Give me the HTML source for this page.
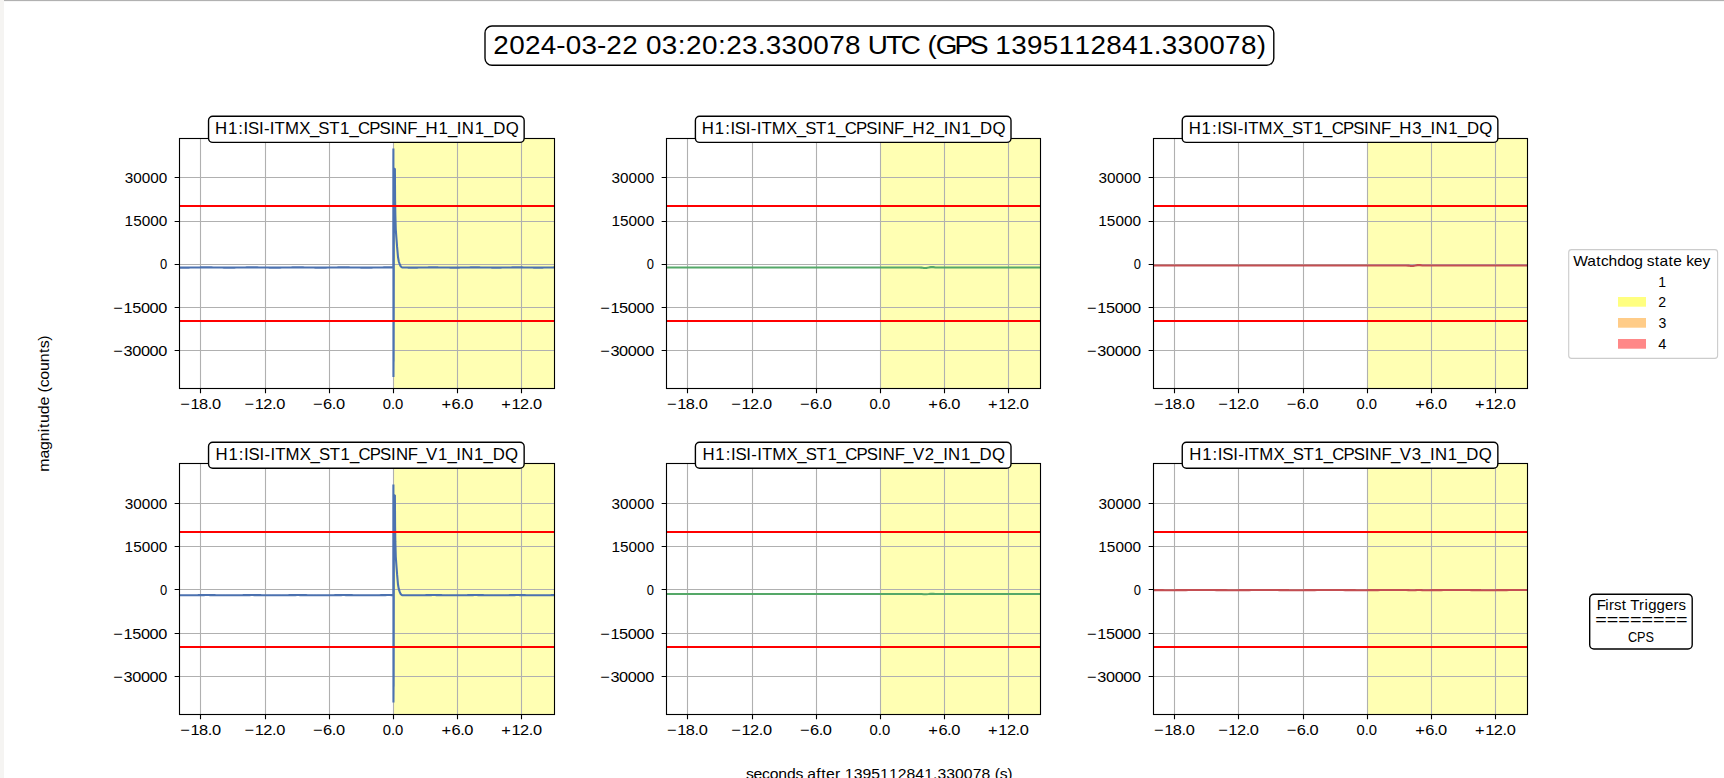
<!DOCTYPE html>
<html><head><meta charset="utf-8"><style>html,body{margin:0;padding:0;background:#fff;width:1724px;height:778px;overflow:hidden;position:relative}</style></head><body>
<svg width="1724" height="778" viewBox="0 0 1724 778" style="position:absolute;left:0;top:0;font-family:'Liberation Sans', sans-serif">
<rect x="0" y="0" width="1724" height="778" fill="#ffffff"/>
<rect x="0" y="0" width="4" height="778" fill="#f5f4f2"/>
<rect x="4" y="0" width="1720" height="1" fill="#b1b1b1"/>
<rect x="4" y="1" width="1720" height="1" fill="#f6f6f6"/>
<clipPath id="c00"><rect x="179.55" y="138.30" width="374.50" height="250.40"/></clipPath>
<rect x="393.55" y="138.30" width="160.50" height="250.40" fill="#ffffb3"/>
<path d="M200.5 138.5V388.5 M265.5 138.5V388.5 M329.5 138.5V388.5 M393.5 138.5V388.5 M457.5 138.5V388.5 M521.5 138.5V388.5 M179.5 177.5H554.5 M179.5 221.5H554.5 M179.5 264.5H554.5 M179.5 307.5H554.5 M179.5 350.5H554.5" stroke="#b0b0b0" stroke-width="1.111" fill="none"/>
<path d="M179.55 267.60 L181.08 267.61 L182.60 267.62 L184.13 267.62 L185.65 267.62 L187.18 267.61 L188.70 267.59 L190.23 267.57 L191.75 267.55 L193.28 267.53 L194.80 267.50 L196.33 267.48 L197.85 267.46 L199.38 267.43 L200.91 267.41 L202.43 267.40 L203.96 267.39 L205.48 267.38 L207.01 267.38 L208.53 267.38 L210.06 267.39 L211.58 267.41 L213.11 267.43 L214.63 267.45 L216.16 267.47 L217.68 267.50 L219.21 267.52 L220.73 267.55 L222.26 267.57 L223.79 267.59 L225.31 267.60 L226.84 267.61 L228.36 267.62 L229.89 267.62 L231.41 267.62 L232.94 267.61 L234.46 267.59 L235.99 267.57 L237.51 267.55 L239.04 267.53 L240.56 267.50 L242.09 267.48 L243.62 267.45 L245.14 267.43 L246.67 267.41 L248.19 267.40 L249.72 267.39 L251.24 267.38 L252.77 267.38 L254.29 267.39 L255.82 267.39 L257.34 267.41 L258.87 267.43 L260.39 267.45 L261.92 267.47 L263.44 267.50 L264.97 267.52 L266.50 267.55 L268.02 267.57 L269.55 267.59 L271.07 267.60 L272.60 267.61 L274.12 267.62 L275.65 267.62 L277.17 267.61 L278.70 267.60 L280.22 267.59 L281.75 267.57 L283.27 267.55 L284.80 267.53 L286.33 267.50 L287.85 267.48 L289.38 267.45 L290.90 267.43 L292.43 267.41 L293.95 267.40 L295.48 267.39 L297.00 267.38 L298.53 267.38 L300.05 267.39 L301.58 267.40 L303.10 267.41 L304.63 267.43 L306.15 267.45 L307.68 267.48 L309.21 267.50 L310.73 267.53 L312.26 267.55 L313.78 267.57 L315.31 267.59 L316.83 267.60 L318.36 267.61 L319.88 267.62 L321.41 267.62 L322.93 267.61 L324.46 267.60 L325.98 267.59 L327.51 267.57 L329.04 267.55 L330.56 267.52 L332.09 267.50 L333.61 267.47 L335.14 267.45 L336.66 267.43 L338.19 267.41 L339.71 267.40 L341.24 267.39 L342.76 267.38 L344.29 267.38 L345.81 267.39 L347.34 267.40 L348.86 267.41 L350.39 267.43 L351.92 267.45 L353.44 267.48 L354.97 267.50 L356.49 267.53 L358.02 267.55 L359.54 267.57 L361.07 267.59 L362.59 267.61 L364.12 267.61 L365.64 267.62 L367.17 267.62 L368.69 267.61 L370.22 267.60 L371.75 267.59 L373.27 267.57 L374.80 267.55 L376.32 267.52 L377.85 267.50 L379.37 267.47 L380.90 267.45 L382.42 267.43 L383.95 267.41 L385.47 267.39 L387.00 267.38 L388.52 267.38 L390.05 267.38 L391.57 267.39 L393.10 267.40 L393.30 267.50 L393.35 163.40 L393.40 148.40 L393.45 376.90 L393.65 343.00 L393.65 361.50 L394.00 168.70 L394.90 168.70 L395.10 199.79 L395.35 214.84 L395.80 229.89 L396.40 237.91 L397.10 246.94 L398.00 256.97 L398.80 261.48 L399.80 264.49 L400.80 266.50 L402.10 267.50 L403.37 267.52 L404.63 267.54 L405.90 267.56 L407.17 267.58 L408.43 267.60 L409.70 267.61 L410.96 267.62 L412.23 267.62 L413.50 267.62 L414.76 267.61 L416.03 267.60 L417.30 267.59 L418.56 267.57 L419.83 267.56 L421.09 267.53 L422.36 267.51 L423.63 267.49 L424.89 267.47 L426.16 267.45 L427.43 267.43 L428.69 267.41 L429.96 267.40 L431.22 267.39 L432.49 267.38 L433.76 267.38 L435.02 267.38 L436.29 267.39 L437.56 267.40 L438.82 267.42 L440.09 267.43 L441.35 267.45 L442.62 267.48 L443.89 267.50 L445.15 267.52 L446.42 267.54 L447.69 267.56 L448.95 267.58 L450.22 267.60 L451.48 267.61 L452.75 267.62 L454.02 267.62 L455.28 267.62 L456.55 267.61 L457.81 267.60 L459.08 267.59 L460.35 267.58 L461.61 267.56 L462.88 267.54 L464.15 267.51 L465.41 267.49 L466.68 267.47 L467.94 267.45 L469.21 267.43 L470.48 267.41 L471.74 267.40 L473.01 267.39 L474.28 267.38 L475.54 267.38 L476.81 267.38 L478.07 267.39 L479.34 267.40 L480.61 267.42 L481.87 267.43 L483.14 267.45 L484.41 267.47 L485.67 267.50 L486.94 267.52 L488.20 267.54 L489.47 267.56 L490.74 267.58 L492.00 267.60 L493.27 267.61 L494.54 267.62 L495.80 267.62 L497.07 267.62 L498.33 267.61 L499.60 267.61 L500.87 267.59 L502.13 267.58 L503.40 267.56 L504.67 267.54 L505.93 267.52 L507.20 267.49 L508.46 267.47 L509.73 267.45 L511.00 267.43 L512.26 267.41 L513.53 267.40 L514.80 267.39 L516.06 267.38 L517.33 267.38 L518.60 267.38 L519.86 267.39 L521.13 267.40 L522.39 267.41 L523.66 267.43 L524.93 267.45 L526.19 267.47 L527.46 267.50 L528.72 267.52 L529.99 267.54 L531.26 267.56 L532.52 267.58 L533.79 267.59 L535.06 267.61 L536.32 267.62 L537.59 267.62 L538.86 267.62 L540.12 267.62 L541.39 267.61 L542.65 267.59 L543.92 267.58 L545.19 267.56 L546.45 267.54 L547.72 267.52 L548.98 267.49 L550.25 267.47 L551.52 267.45 L552.78 267.43 L554.05 267.41" stroke="#4c72b0" stroke-width="2.08" fill="none" stroke-linejoin="bevel" stroke-linecap="butt" clip-path="url(#c00)"/>
<path d="M179.55 206H554.05" stroke="#ff0000" stroke-width="2.08" fill="none"/>
<path d="M179.55 321H554.05" stroke="#ff0000" stroke-width="2.08" fill="none"/>
<rect x="179.5" y="138.5" width="375.0" height="250.0" fill="none" stroke="#000" stroke-width="1.111" stroke-linejoin="miter"/>
<path d="M200.5 388.5V393.36 M265.5 388.5V393.36 M329.5 388.5V393.36 M393.5 388.5V393.36 M457.5 388.5V393.36 M521.5 388.5V393.36 M179.5 177.5H174.64 M179.5 221.5H174.64 M179.5 264.5H174.64 M179.5 307.5H174.64 M179.5 350.5H174.64" stroke="#000" stroke-width="1.111" fill="none"/>
<text transform="scale(1.11305,1)" x="161.93 171.09 178.82 186.66 190.41" y="408.800" font-size="14.717" fill="#000">−18.0</text>
<text transform="scale(1.11305,1)" x="219.61 228.77 236.50 244.34 248.09" y="408.800" font-size="14.717" fill="#000">−12.0</text>
<text transform="scale(1.11744,1)" x="280.15 289.17 296.93 300.59" y="408.800" font-size="14.717" fill="#000">−6.0</text>
<text transform="scale(1.00733,1)" x="379.96 388.14 392.23" y="408.800" font-size="14.717" fill="#000">0.0</text>
<text transform="scale(1.11715,1)" x="395.16 404.19 411.94 415.60" y="408.800" font-size="14.717" fill="#000">+6.0</text>
<text transform="scale(1.11282,1)" x="450.42 459.59 467.32 475.16 478.91" y="408.800" font-size="14.717" fill="#000">+12.0</text>
<text transform="scale(1.04058,1)" x="119.88 128.06 136.25 144.43 152.62" y="182.780" font-size="14.717" fill="#000">30000</text>
<text transform="scale(1.04352,1)" x="119.43 127.61 135.80 143.98 152.16" y="226.030" font-size="14.717" fill="#000">15000</text>
<text transform="scale(0.88113,1)" x="181.61" y="269.280" font-size="14.717" fill="#000">0</text>
<text transform="scale(1.10733,1)" x="102.32 111.60 119.44 127.28 135.12 142.96" y="312.530" font-size="14.717" fill="#000">−15000</text>
<text transform="scale(1.10733,1)" x="102.32 111.60 119.44 127.28 135.12 142.96" y="355.780" font-size="14.717" fill="#000">−30000</text>
<rect x="208.55" y="116.3" width="315.6" height="26.10" rx="4.2" ry="4.2" fill="#fff" stroke="#000" stroke-width="1.39"/>
<text transform="scale(0.97810,1)" x="219.82 233.01 243.65 249.00 253.55 264.77 269.85 275.89 280.71 291.30 305.84 316.84 325.51 336.55 347.59 357.22 365.96 377.46 387.96 399.18 404.21 416.38 425.96 435.15 448.35 457.98 467.10 472.14 485.30 494.93 504.27 516.99" y="133.900" font-size="17.150" fill="#000">H1:ISI-ITMX_ST1_CPSINF_H1_IN1_DQ</text>
<clipPath id="c01"><rect x="666.40" y="138.30" width="374.50" height="250.40"/></clipPath>
<rect x="880.40" y="138.30" width="160.50" height="250.40" fill="#ffffb3"/>
<path d="M687.5 138.5V388.5 M752.5 138.5V388.5 M816.5 138.5V388.5 M880.5 138.5V388.5 M944.5 138.5V388.5 M1008.5 138.5V388.5 M666.5 177.5H1040.5 M666.5 221.5H1040.5 M666.5 264.5H1040.5 M666.5 307.5H1040.5 M666.5 350.5H1040.5" stroke="#b0b0b0" stroke-width="1.111" fill="none"/>
<path d="M666.40 267.50 L668.74 267.52 L671.08 267.54 L673.42 267.55 L675.76 267.56 L678.10 267.57 L680.44 267.58 L682.78 267.58 L685.12 267.58 L687.47 267.57 L689.81 267.56 L692.15 267.55 L694.49 267.53 L696.83 267.51 L699.17 267.49 L701.51 267.48 L703.85 267.46 L706.19 267.44 L708.53 267.43 L710.87 267.42 L713.21 267.42 L715.55 267.42 L717.89 267.42 L720.23 267.43 L722.57 267.44 L724.92 267.46 L727.26 267.48 L729.60 267.49 L731.94 267.51 L734.28 267.53 L736.62 267.55 L738.96 267.56 L741.30 267.57 L743.64 267.58 L745.98 267.58 L748.32 267.58 L750.66 267.57 L753.00 267.56 L755.34 267.55 L757.68 267.54 L760.02 267.52 L762.37 267.50 L764.71 267.48 L767.05 267.46 L769.39 267.45 L771.73 267.44 L774.07 267.43 L776.41 267.42 L778.75 267.42 L781.09 267.42 L783.43 267.43 L785.77 267.44 L788.11 267.45 L790.45 267.47 L792.79 267.49 L795.13 267.51 L797.47 267.52 L799.82 267.54 L802.16 267.56 L804.50 267.57 L806.84 267.58 L809.18 267.58 L811.52 267.58 L813.86 267.58 L816.20 267.57 L818.54 267.55 L820.88 267.54 L823.22 267.52 L825.56 267.51 L827.90 267.49 L830.24 267.47 L832.58 267.45 L834.92 267.44 L837.27 267.43 L839.61 267.42 L841.95 267.42 L844.29 267.42 L846.63 267.43 L848.97 267.44 L851.31 267.45 L853.65 267.47 L855.99 267.48 L858.33 267.50 L860.67 267.52 L863.01 267.54 L865.35 267.55 L867.69 267.56 L870.03 267.57 L872.38 267.58 L874.72 267.58 L877.06 267.58 L879.40 267.57 L881.74 267.56 L884.08 267.55 L886.42 267.53 L888.76 267.51 L891.10 267.49 L893.44 267.47 L895.78 267.46 L898.12 267.44 L900.46 267.43 L902.80 267.42 L905.14 267.42 L907.48 267.42 L909.83 267.43 L912.17 267.43 L914.51 267.45 L916.85 267.46 L919.19 267.48 L921.53 267.59 L923.87 267.98 L926.21 267.95 L928.55 267.55 L930.89 267.14 L933.23 267.11 L935.57 267.48 L937.91 267.58 L940.25 267.58 L942.59 267.57 L944.93 267.56 L947.27 267.55 L949.62 267.53 L951.96 267.52 L954.30 267.50 L956.64 267.48 L958.98 267.46 L961.32 267.45 L963.66 267.44 L966.00 267.43 L968.34 267.42 L970.68 267.42 L973.02 267.42 L975.36 267.43 L977.70 267.44 L980.04 267.46 L982.38 267.47 L984.72 267.49 L987.07 267.51 L989.41 267.53 L991.75 267.54 L994.09 267.56 L996.43 267.57 L998.77 267.58 L1001.11 267.58 L1003.45 267.58 L1005.79 267.57 L1008.13 267.57 L1010.47 267.55 L1012.81 267.54 L1015.15 267.52 L1017.49 267.50 L1019.83 267.49 L1022.17 267.47 L1024.52 267.45 L1026.86 267.44 L1029.20 267.43 L1031.54 267.42 L1033.88 267.42 L1036.22 267.42 L1038.56 267.43 L1040.90 267.44" stroke="#55a868" stroke-width="2.08" fill="none" stroke-linejoin="bevel" stroke-linecap="butt" clip-path="url(#c01)"/>
<path d="M666.40 206H1040.90" stroke="#ff0000" stroke-width="2.08" fill="none"/>
<path d="M666.40 321H1040.90" stroke="#ff0000" stroke-width="2.08" fill="none"/>
<rect x="666.5" y="138.5" width="374.0" height="250.0" fill="none" stroke="#000" stroke-width="1.111" stroke-linejoin="miter"/>
<path d="M687.5 388.5V393.36 M752.5 388.5V393.36 M816.5 388.5V393.36 M880.5 388.5V393.36 M944.5 388.5V393.36 M1008.5 388.5V393.36 M666.5 177.5H661.64 M666.5 221.5H661.64 M666.5 264.5H661.64 M666.5 307.5H661.64 M666.5 350.5H661.64" stroke="#000" stroke-width="1.111" fill="none"/>
<text transform="scale(1.11305,1)" x="599.33 608.49 616.22 624.07 627.82" y="408.800" font-size="14.717" fill="#000">−18.0</text>
<text transform="scale(1.11305,1)" x="657.01 666.17 673.90 681.75 685.50" y="408.800" font-size="14.717" fill="#000">−12.0</text>
<text transform="scale(1.11744,1)" x="715.83 724.85 732.61 736.27" y="408.800" font-size="14.717" fill="#000">−6.0</text>
<text transform="scale(1.00733,1)" x="863.26 871.45 875.53" y="408.800" font-size="14.717" fill="#000">0.0</text>
<text transform="scale(1.11715,1)" x="830.96 839.99 847.74 851.40" y="408.800" font-size="14.717" fill="#000">+6.0</text>
<text transform="scale(1.11282,1)" x="887.92 897.08 904.81 912.65 916.40" y="408.800" font-size="14.717" fill="#000">+12.0</text>
<text transform="scale(1.04058,1)" x="587.74 595.93 604.11 612.30 620.48" y="182.780" font-size="14.717" fill="#000">30000</text>
<text transform="scale(1.04352,1)" x="585.97 594.16 602.34 610.53 618.71" y="226.030" font-size="14.717" fill="#000">15000</text>
<text transform="scale(0.88113,1)" x="734.14" y="269.280" font-size="14.717" fill="#000">0</text>
<text transform="scale(1.10733,1)" x="541.98 551.26 559.10 566.94 574.78 582.62" y="312.530" font-size="14.717" fill="#000">−15000</text>
<text transform="scale(1.10733,1)" x="541.98 551.26 559.10 566.94 574.78 582.62" y="355.780" font-size="14.717" fill="#000">−30000</text>
<rect x="695.40" y="116.3" width="315.6" height="26.10" rx="4.2" ry="4.2" fill="#fff" stroke="#000" stroke-width="1.39"/>
<text transform="scale(0.97810,1)" x="717.57 730.76 741.40 746.75 751.30 762.52 767.60 773.63 778.46 789.05 803.59 814.59 823.26 834.30 845.34 854.97 863.71 875.21 885.71 896.93 901.96 914.13 923.71 932.90 946.10 955.73 964.85 969.89 983.05 992.68 1002.02 1014.74" y="133.900" font-size="17.150" fill="#000">H1:ISI-ITMX_ST1_CPSINF_H2_IN1_DQ</text>
<clipPath id="c02"><rect x="1153.25" y="138.30" width="374.50" height="250.40"/></clipPath>
<rect x="1367.25" y="138.30" width="160.50" height="250.40" fill="#ffffb3"/>
<path d="M1174.5 138.5V388.5 M1238.5 138.5V388.5 M1303.5 138.5V388.5 M1367.5 138.5V388.5 M1431.5 138.5V388.5 M1495.5 138.5V388.5 M1153.5 177.5H1527.5 M1153.5 221.5H1527.5 M1153.5 264.5H1527.5 M1153.5 307.5H1527.5 M1153.5 350.5H1527.5" stroke="#b0b0b0" stroke-width="1.111" fill="none"/>
<path d="M1153.25 265.50 L1155.59 265.52 L1157.93 265.54 L1160.27 265.55 L1162.61 265.56 L1164.95 265.57 L1167.29 265.58 L1169.63 265.58 L1171.97 265.58 L1174.32 265.57 L1176.66 265.56 L1179.00 265.55 L1181.34 265.53 L1183.68 265.51 L1186.02 265.49 L1188.36 265.48 L1190.70 265.46 L1193.04 265.44 L1195.38 265.43 L1197.72 265.42 L1200.06 265.42 L1202.40 265.42 L1204.74 265.42 L1207.08 265.43 L1209.42 265.44 L1211.77 265.46 L1214.11 265.48 L1216.45 265.49 L1218.79 265.51 L1221.13 265.53 L1223.47 265.55 L1225.81 265.56 L1228.15 265.57 L1230.49 265.58 L1232.83 265.58 L1235.17 265.58 L1237.51 265.57 L1239.85 265.56 L1242.19 265.55 L1244.53 265.54 L1246.88 265.52 L1249.22 265.50 L1251.56 265.48 L1253.90 265.46 L1256.24 265.45 L1258.58 265.44 L1260.92 265.43 L1263.26 265.42 L1265.60 265.42 L1267.94 265.42 L1270.28 265.43 L1272.62 265.44 L1274.96 265.45 L1277.30 265.47 L1279.64 265.49 L1281.98 265.51 L1284.33 265.52 L1286.67 265.54 L1289.01 265.56 L1291.35 265.57 L1293.69 265.58 L1296.03 265.58 L1298.37 265.58 L1300.71 265.58 L1303.05 265.57 L1305.39 265.55 L1307.73 265.54 L1310.07 265.52 L1312.41 265.51 L1314.75 265.49 L1317.09 265.47 L1319.43 265.45 L1321.78 265.44 L1324.12 265.43 L1326.46 265.42 L1328.80 265.42 L1331.14 265.42 L1333.48 265.43 L1335.82 265.44 L1338.16 265.45 L1340.50 265.47 L1342.84 265.48 L1345.18 265.50 L1347.52 265.52 L1349.86 265.54 L1352.20 265.55 L1354.54 265.56 L1356.88 265.57 L1359.22 265.58 L1361.57 265.58 L1363.91 265.58 L1366.25 265.57 L1368.59 265.56 L1370.93 265.55 L1373.27 265.53 L1375.61 265.51 L1377.95 265.49 L1380.29 265.47 L1382.63 265.46 L1384.97 265.44 L1387.31 265.43 L1389.65 265.42 L1391.99 265.42 L1394.33 265.42 L1396.67 265.43 L1399.02 265.43 L1401.36 265.45 L1403.70 265.46 L1406.04 265.48 L1408.38 265.59 L1410.72 265.98 L1413.06 265.95 L1415.40 265.55 L1417.74 265.14 L1420.08 265.11 L1422.42 265.48 L1424.76 265.58 L1427.10 265.58 L1429.44 265.57 L1431.78 265.56 L1434.12 265.55 L1436.47 265.53 L1438.81 265.52 L1441.15 265.50 L1443.49 265.48 L1445.83 265.46 L1448.17 265.45 L1450.51 265.44 L1452.85 265.43 L1455.19 265.42 L1457.53 265.42 L1459.87 265.42 L1462.21 265.43 L1464.55 265.44 L1466.89 265.46 L1469.23 265.47 L1471.58 265.49 L1473.92 265.51 L1476.26 265.53 L1478.60 265.54 L1480.94 265.56 L1483.28 265.57 L1485.62 265.58 L1487.96 265.58 L1490.30 265.58 L1492.64 265.57 L1494.98 265.57 L1497.32 265.55 L1499.66 265.54 L1502.00 265.52 L1504.34 265.50 L1506.68 265.49 L1509.03 265.47 L1511.37 265.45 L1513.71 265.44 L1516.05 265.43 L1518.39 265.42 L1520.73 265.42 L1523.07 265.42 L1525.41 265.43 L1527.75 265.44" stroke="#c44e52" stroke-width="2.08" fill="none" stroke-linejoin="bevel" stroke-linecap="butt" clip-path="url(#c02)"/>
<path d="M1153.25 206H1527.75" stroke="#ff0000" stroke-width="2.08" fill="none"/>
<path d="M1153.25 321H1527.75" stroke="#ff0000" stroke-width="2.08" fill="none"/>
<rect x="1153.5" y="138.5" width="374.0" height="250.0" fill="none" stroke="#000" stroke-width="1.111" stroke-linejoin="miter"/>
<path d="M1174.5 388.5V393.36 M1238.5 388.5V393.36 M1303.5 388.5V393.36 M1367.5 388.5V393.36 M1431.5 388.5V393.36 M1495.5 388.5V393.36 M1153.5 177.5H1148.64 M1153.5 221.5H1148.64 M1153.5 264.5H1148.64 M1153.5 307.5H1148.64 M1153.5 350.5H1148.64" stroke="#000" stroke-width="1.111" fill="none"/>
<text transform="scale(1.11305,1)" x="1036.73 1045.90 1053.63 1061.47 1065.22" y="408.800" font-size="14.717" fill="#000">−18.0</text>
<text transform="scale(1.11305,1)" x="1094.41 1103.58 1111.31 1119.15 1122.90" y="408.800" font-size="14.717" fill="#000">−12.0</text>
<text transform="scale(1.11744,1)" x="1151.51 1160.54 1168.29 1171.95" y="408.800" font-size="14.717" fill="#000">−6.0</text>
<text transform="scale(1.00733,1)" x="1346.57 1354.75 1358.84" y="408.800" font-size="14.717" fill="#000">0.0</text>
<text transform="scale(1.11715,1)" x="1266.76 1275.78 1283.54 1287.20" y="408.800" font-size="14.717" fill="#000">+6.0</text>
<text transform="scale(1.11282,1)" x="1325.41 1334.57 1342.30 1350.15 1353.89" y="408.800" font-size="14.717" fill="#000">+12.0</text>
<text transform="scale(1.04058,1)" x="1055.61 1063.79 1071.98 1080.16 1088.35" y="182.780" font-size="14.717" fill="#000">30000</text>
<text transform="scale(1.04352,1)" x="1052.52 1060.71 1068.89 1077.07 1085.26" y="226.030" font-size="14.717" fill="#000">15000</text>
<text transform="scale(0.88113,1)" x="1286.67" y="269.280" font-size="14.717" fill="#000">0</text>
<text transform="scale(1.10733,1)" x="981.64 990.92 998.76 1006.60 1014.44 1022.28" y="312.530" font-size="14.717" fill="#000">−15000</text>
<text transform="scale(1.10733,1)" x="981.64 990.92 998.76 1006.60 1014.44 1022.28" y="355.780" font-size="14.717" fill="#000">−30000</text>
<rect x="1182.25" y="116.3" width="315.6" height="26.10" rx="4.2" ry="4.2" fill="#fff" stroke="#000" stroke-width="1.39"/>
<text transform="scale(0.97810,1)" x="1215.32 1228.51 1239.15 1244.50 1249.05 1260.27 1265.35 1271.38 1276.21 1286.80 1301.34 1312.34 1321.01 1332.05 1343.09 1352.72 1361.46 1372.96 1383.46 1394.67 1399.71 1411.88 1421.46 1430.65 1443.85 1453.48 1462.60 1467.64 1480.79 1490.43 1499.77 1512.49" y="133.900" font-size="17.150" fill="#000">H1:ISI-ITMX_ST1_CPSINF_H3_IN1_DQ</text>
<clipPath id="c10"><rect x="179.55" y="463.80" width="374.50" height="250.40"/></clipPath>
<rect x="393.55" y="463.80" width="160.50" height="250.40" fill="#ffffb3"/>
<path d="M200.5 463.5V714.5 M265.5 463.5V714.5 M329.5 463.5V714.5 M393.5 463.5V714.5 M457.5 463.5V714.5 M521.5 463.5V714.5 M179.5 503.5H554.5 M179.5 546.5H554.5 M179.5 589.5H554.5 M179.5 633.5H554.5 M179.5 676.5H554.5" stroke="#b0b0b0" stroke-width="1.111" fill="none"/>
<path d="M179.55 595.30 L181.08 595.31 L182.60 595.32 L184.13 595.32 L185.65 595.32 L187.18 595.31 L188.70 595.29 L190.23 595.27 L191.75 595.25 L193.28 595.23 L194.80 595.20 L196.33 595.18 L197.85 595.16 L199.38 595.13 L200.91 595.11 L202.43 595.10 L203.96 595.09 L205.48 595.08 L207.01 595.08 L208.53 595.08 L210.06 595.09 L211.58 595.11 L213.11 595.13 L214.63 595.15 L216.16 595.17 L217.68 595.20 L219.21 595.22 L220.73 595.25 L222.26 595.27 L223.79 595.29 L225.31 595.30 L226.84 595.31 L228.36 595.32 L229.89 595.32 L231.41 595.32 L232.94 595.31 L234.46 595.29 L235.99 595.27 L237.51 595.25 L239.04 595.23 L240.56 595.20 L242.09 595.18 L243.62 595.15 L245.14 595.13 L246.67 595.11 L248.19 595.10 L249.72 595.09 L251.24 595.08 L252.77 595.08 L254.29 595.09 L255.82 595.09 L257.34 595.11 L258.87 595.13 L260.39 595.15 L261.92 595.17 L263.44 595.20 L264.97 595.22 L266.50 595.25 L268.02 595.27 L269.55 595.29 L271.07 595.30 L272.60 595.31 L274.12 595.32 L275.65 595.32 L277.17 595.31 L278.70 595.30 L280.22 595.29 L281.75 595.27 L283.27 595.25 L284.80 595.23 L286.33 595.20 L287.85 595.18 L289.38 595.15 L290.90 595.13 L292.43 595.11 L293.95 595.10 L295.48 595.09 L297.00 595.08 L298.53 595.08 L300.05 595.09 L301.58 595.10 L303.10 595.11 L304.63 595.13 L306.15 595.15 L307.68 595.18 L309.21 595.20 L310.73 595.23 L312.26 595.25 L313.78 595.27 L315.31 595.29 L316.83 595.30 L318.36 595.31 L319.88 595.32 L321.41 595.32 L322.93 595.31 L324.46 595.30 L325.98 595.29 L327.51 595.27 L329.04 595.25 L330.56 595.22 L332.09 595.20 L333.61 595.17 L335.14 595.15 L336.66 595.13 L338.19 595.11 L339.71 595.10 L341.24 595.09 L342.76 595.08 L344.29 595.08 L345.81 595.09 L347.34 595.10 L348.86 595.11 L350.39 595.13 L351.92 595.15 L353.44 595.18 L354.97 595.20 L356.49 595.23 L358.02 595.25 L359.54 595.27 L361.07 595.29 L362.59 595.31 L364.12 595.31 L365.64 595.32 L367.17 595.32 L368.69 595.31 L370.22 595.30 L371.75 595.29 L373.27 595.27 L374.80 595.25 L376.32 595.22 L377.85 595.20 L379.37 595.17 L380.90 595.15 L382.42 595.13 L383.95 595.11 L385.47 595.09 L387.00 595.08 L388.52 595.08 L390.05 595.08 L391.57 595.09 L393.10 595.10 L393.30 595.20 L393.35 499.40 L393.40 484.40 L393.45 702.60 L393.65 669.60 L393.65 686.50 L394.00 495.20 L394.90 495.20 L395.10 526.67 L395.35 541.90 L395.80 557.13 L396.40 565.25 L397.10 574.39 L398.00 584.54 L398.80 589.11 L399.80 592.15 L400.80 594.18 L402.10 595.20 L403.37 595.22 L404.63 595.24 L405.90 595.26 L407.17 595.28 L408.43 595.30 L409.70 595.31 L410.96 595.32 L412.23 595.32 L413.50 595.32 L414.76 595.31 L416.03 595.30 L417.30 595.29 L418.56 595.27 L419.83 595.26 L421.09 595.23 L422.36 595.21 L423.63 595.19 L424.89 595.17 L426.16 595.15 L427.43 595.13 L428.69 595.11 L429.96 595.10 L431.22 595.09 L432.49 595.08 L433.76 595.08 L435.02 595.08 L436.29 595.09 L437.56 595.10 L438.82 595.12 L440.09 595.13 L441.35 595.15 L442.62 595.18 L443.89 595.20 L445.15 595.22 L446.42 595.24 L447.69 595.26 L448.95 595.28 L450.22 595.30 L451.48 595.31 L452.75 595.32 L454.02 595.32 L455.28 595.32 L456.55 595.31 L457.81 595.30 L459.08 595.29 L460.35 595.28 L461.61 595.26 L462.88 595.24 L464.15 595.21 L465.41 595.19 L466.68 595.17 L467.94 595.15 L469.21 595.13 L470.48 595.11 L471.74 595.10 L473.01 595.09 L474.28 595.08 L475.54 595.08 L476.81 595.08 L478.07 595.09 L479.34 595.10 L480.61 595.12 L481.87 595.13 L483.14 595.15 L484.41 595.17 L485.67 595.20 L486.94 595.22 L488.20 595.24 L489.47 595.26 L490.74 595.28 L492.00 595.30 L493.27 595.31 L494.54 595.32 L495.80 595.32 L497.07 595.32 L498.33 595.31 L499.60 595.31 L500.87 595.29 L502.13 595.28 L503.40 595.26 L504.67 595.24 L505.93 595.22 L507.20 595.19 L508.46 595.17 L509.73 595.15 L511.00 595.13 L512.26 595.11 L513.53 595.10 L514.80 595.09 L516.06 595.08 L517.33 595.08 L518.60 595.08 L519.86 595.09 L521.13 595.10 L522.39 595.11 L523.66 595.13 L524.93 595.15 L526.19 595.17 L527.46 595.20 L528.72 595.22 L529.99 595.24 L531.26 595.26 L532.52 595.28 L533.79 595.29 L535.06 595.31 L536.32 595.32 L537.59 595.32 L538.86 595.32 L540.12 595.32 L541.39 595.31 L542.65 595.29 L543.92 595.28 L545.19 595.26 L546.45 595.24 L547.72 595.22 L548.98 595.19 L550.25 595.17 L551.52 595.15 L552.78 595.13 L554.05 595.11" stroke="#4c72b0" stroke-width="2.08" fill="none" stroke-linejoin="bevel" stroke-linecap="butt" clip-path="url(#c10)"/>
<path d="M179.55 532H554.05" stroke="#ff0000" stroke-width="2.08" fill="none"/>
<path d="M179.55 647H554.05" stroke="#ff0000" stroke-width="2.08" fill="none"/>
<rect x="179.5" y="463.5" width="375.0" height="251.0" fill="none" stroke="#000" stroke-width="1.111" stroke-linejoin="miter"/>
<path d="M200.5 714.5V719.36 M265.5 714.5V719.36 M329.5 714.5V719.36 M393.5 714.5V719.36 M457.5 714.5V719.36 M521.5 714.5V719.36 M179.5 503.5H174.64 M179.5 546.5H174.64 M179.5 589.5H174.64 M179.5 633.5H174.64 M179.5 676.5H174.64" stroke="#000" stroke-width="1.111" fill="none"/>
<text transform="scale(1.11305,1)" x="161.93 171.09 178.82 186.66 190.41" y="734.700" font-size="14.717" fill="#000">−18.0</text>
<text transform="scale(1.11305,1)" x="219.61 228.77 236.50 244.34 248.09" y="734.700" font-size="14.717" fill="#000">−12.0</text>
<text transform="scale(1.11744,1)" x="280.15 289.17 296.93 300.59" y="734.700" font-size="14.717" fill="#000">−6.0</text>
<text transform="scale(1.00733,1)" x="379.96 388.14 392.23" y="734.700" font-size="14.717" fill="#000">0.0</text>
<text transform="scale(1.11715,1)" x="395.16 404.19 411.94 415.60" y="734.700" font-size="14.717" fill="#000">+6.0</text>
<text transform="scale(1.11282,1)" x="450.42 459.59 467.32 475.16 478.91" y="734.700" font-size="14.717" fill="#000">+12.0</text>
<text transform="scale(1.04058,1)" x="119.88 128.06 136.25 144.43 152.62" y="508.850" font-size="14.717" fill="#000">30000</text>
<text transform="scale(1.04352,1)" x="119.43 127.61 135.80 143.98 152.16" y="552.100" font-size="14.717" fill="#000">15000</text>
<text transform="scale(0.88113,1)" x="181.61" y="595.350" font-size="14.717" fill="#000">0</text>
<text transform="scale(1.10733,1)" x="102.32 111.60 119.44 127.28 135.12 142.96" y="638.600" font-size="14.717" fill="#000">−15000</text>
<text transform="scale(1.10733,1)" x="102.32 111.60 119.44 127.28 135.12 142.96" y="681.850" font-size="14.717" fill="#000">−30000</text>
<rect x="208.55" y="442.2" width="315.6" height="26.10" rx="4.2" ry="4.2" fill="#fff" stroke="#000" stroke-width="1.39"/>
<text transform="scale(0.97748,1)" x="220.54 233.74 244.38 249.74 254.29 265.51 270.60 276.64 281.47 292.06 306.62 317.62 326.30 337.34 348.39 358.03 366.77 378.29 388.79 400.01 405.05 417.23 426.82 435.91 448.06 457.70 466.83 471.87 485.04 494.68 504.03 516.76" y="459.800" font-size="17.150" fill="#000">H1:ISI-ITMX_ST1_CPSINF_V1_IN1_DQ</text>
<clipPath id="c11"><rect x="666.40" y="463.80" width="374.50" height="250.40"/></clipPath>
<rect x="880.40" y="463.80" width="160.50" height="250.40" fill="#ffffb3"/>
<path d="M687.5 463.5V714.5 M752.5 463.5V714.5 M816.5 463.5V714.5 M880.5 463.5V714.5 M944.5 463.5V714.5 M1008.5 463.5V714.5 M666.5 503.5H1040.5 M666.5 546.5H1040.5 M666.5 589.5H1040.5 M666.5 633.5H1040.5 M666.5 676.5H1040.5" stroke="#b0b0b0" stroke-width="1.111" fill="none"/>
<path d="M666.40 594.00 L668.74 594.02 L671.08 594.04 L673.42 594.05 L675.76 594.06 L678.10 594.07 L680.44 594.08 L682.78 594.08 L685.12 594.08 L687.47 594.07 L689.81 594.06 L692.15 594.05 L694.49 594.03 L696.83 594.01 L699.17 593.99 L701.51 593.98 L703.85 593.96 L706.19 593.94 L708.53 593.93 L710.87 593.92 L713.21 593.92 L715.55 593.92 L717.89 593.92 L720.23 593.93 L722.57 593.94 L724.92 593.96 L727.26 593.98 L729.60 593.99 L731.94 594.01 L734.28 594.03 L736.62 594.05 L738.96 594.06 L741.30 594.07 L743.64 594.08 L745.98 594.08 L748.32 594.08 L750.66 594.07 L753.00 594.06 L755.34 594.05 L757.68 594.04 L760.02 594.02 L762.37 594.00 L764.71 593.98 L767.05 593.96 L769.39 593.95 L771.73 593.94 L774.07 593.93 L776.41 593.92 L778.75 593.92 L781.09 593.92 L783.43 593.93 L785.77 593.94 L788.11 593.95 L790.45 593.97 L792.79 593.99 L795.13 594.01 L797.47 594.02 L799.82 594.04 L802.16 594.06 L804.50 594.07 L806.84 594.08 L809.18 594.08 L811.52 594.08 L813.86 594.08 L816.20 594.07 L818.54 594.05 L820.88 594.04 L823.22 594.02 L825.56 594.01 L827.90 593.99 L830.24 593.97 L832.58 593.95 L834.92 593.94 L837.27 593.93 L839.61 593.92 L841.95 593.92 L844.29 593.92 L846.63 593.93 L848.97 593.94 L851.31 593.95 L853.65 593.97 L855.99 593.98 L858.33 594.00 L860.67 594.02 L863.01 594.04 L865.35 594.05 L867.69 594.06 L870.03 594.07 L872.38 594.08 L874.72 594.08 L877.06 594.08 L879.40 594.07 L881.74 594.06 L884.08 594.05 L886.42 594.03 L888.76 594.01 L891.10 593.99 L893.44 593.97 L895.78 593.96 L898.12 593.94 L900.46 593.93 L902.80 593.92 L905.14 593.92 L907.48 593.92 L909.83 593.93 L912.17 593.93 L914.51 593.95 L916.85 593.96 L919.19 593.98 L921.53 594.03 L923.87 594.20 L926.21 594.20 L928.55 594.05 L930.89 593.89 L933.23 593.89 L935.57 594.04 L937.91 594.08 L940.25 594.08 L942.59 594.07 L944.93 594.06 L947.27 594.05 L949.62 594.03 L951.96 594.02 L954.30 594.00 L956.64 593.98 L958.98 593.96 L961.32 593.95 L963.66 593.94 L966.00 593.93 L968.34 593.92 L970.68 593.92 L973.02 593.92 L975.36 593.93 L977.70 593.94 L980.04 593.96 L982.38 593.97 L984.72 593.99 L987.07 594.01 L989.41 594.03 L991.75 594.04 L994.09 594.06 L996.43 594.07 L998.77 594.08 L1001.11 594.08 L1003.45 594.08 L1005.79 594.07 L1008.13 594.07 L1010.47 594.05 L1012.81 594.04 L1015.15 594.02 L1017.49 594.00 L1019.83 593.99 L1022.17 593.97 L1024.52 593.95 L1026.86 593.94 L1029.20 593.93 L1031.54 593.92 L1033.88 593.92 L1036.22 593.92 L1038.56 593.93 L1040.90 593.94" stroke="#55a868" stroke-width="2.08" fill="none" stroke-linejoin="bevel" stroke-linecap="butt" clip-path="url(#c11)"/>
<path d="M666.40 532H1040.90" stroke="#ff0000" stroke-width="2.08" fill="none"/>
<path d="M666.40 647H1040.90" stroke="#ff0000" stroke-width="2.08" fill="none"/>
<rect x="666.5" y="463.5" width="374.0" height="251.0" fill="none" stroke="#000" stroke-width="1.111" stroke-linejoin="miter"/>
<path d="M687.5 714.5V719.36 M752.5 714.5V719.36 M816.5 714.5V719.36 M880.5 714.5V719.36 M944.5 714.5V719.36 M1008.5 714.5V719.36 M666.5 503.5H661.64 M666.5 546.5H661.64 M666.5 589.5H661.64 M666.5 633.5H661.64 M666.5 676.5H661.64" stroke="#000" stroke-width="1.111" fill="none"/>
<text transform="scale(1.11305,1)" x="599.33 608.49 616.22 624.07 627.82" y="734.700" font-size="14.717" fill="#000">−18.0</text>
<text transform="scale(1.11305,1)" x="657.01 666.17 673.90 681.75 685.50" y="734.700" font-size="14.717" fill="#000">−12.0</text>
<text transform="scale(1.11744,1)" x="715.83 724.85 732.61 736.27" y="734.700" font-size="14.717" fill="#000">−6.0</text>
<text transform="scale(1.00733,1)" x="863.26 871.45 875.53" y="734.700" font-size="14.717" fill="#000">0.0</text>
<text transform="scale(1.11715,1)" x="830.96 839.99 847.74 851.40" y="734.700" font-size="14.717" fill="#000">+6.0</text>
<text transform="scale(1.11282,1)" x="887.92 897.08 904.81 912.65 916.40" y="734.700" font-size="14.717" fill="#000">+12.0</text>
<text transform="scale(1.04058,1)" x="587.74 595.93 604.11 612.30 620.48" y="508.850" font-size="14.717" fill="#000">30000</text>
<text transform="scale(1.04352,1)" x="585.97 594.16 602.34 610.53 618.71" y="552.100" font-size="14.717" fill="#000">15000</text>
<text transform="scale(0.88113,1)" x="734.14" y="595.350" font-size="14.717" fill="#000">0</text>
<text transform="scale(1.10733,1)" x="541.98 551.26 559.10 566.94 574.78 582.62" y="638.600" font-size="14.717" fill="#000">−15000</text>
<text transform="scale(1.10733,1)" x="541.98 551.26 559.10 566.94 574.78 582.62" y="681.850" font-size="14.717" fill="#000">−30000</text>
<rect x="695.40" y="442.2" width="315.6" height="26.10" rx="4.2" ry="4.2" fill="#fff" stroke="#000" stroke-width="1.39"/>
<text transform="scale(0.97748,1)" x="718.60 731.80 742.45 747.81 752.36 763.58 768.67 774.71 779.53 790.13 804.68 815.69 824.36 835.41 846.46 856.10 864.84 876.35 886.85 898.08 903.12 915.30 924.89 933.98 946.13 955.77 964.90 969.94 983.10 992.74 1002.09 1014.83" y="459.800" font-size="17.150" fill="#000">H1:ISI-ITMX_ST1_CPSINF_V2_IN1_DQ</text>
<clipPath id="c12"><rect x="1153.25" y="463.80" width="374.50" height="250.40"/></clipPath>
<rect x="1367.25" y="463.80" width="160.50" height="250.40" fill="#ffffb3"/>
<path d="M1174.5 463.5V714.5 M1238.5 463.5V714.5 M1303.5 463.5V714.5 M1367.5 463.5V714.5 M1431.5 463.5V714.5 M1495.5 463.5V714.5 M1153.5 503.5H1527.5 M1153.5 546.5H1527.5 M1153.5 589.5H1527.5 M1153.5 633.5H1527.5 M1153.5 676.5H1527.5" stroke="#b0b0b0" stroke-width="1.111" fill="none"/>
<path d="M1153.25 590.10 L1155.59 590.12 L1157.93 590.14 L1160.27 590.15 L1162.61 590.16 L1164.95 590.17 L1167.29 590.18 L1169.63 590.18 L1171.97 590.18 L1174.32 590.17 L1176.66 590.16 L1179.00 590.15 L1181.34 590.13 L1183.68 590.11 L1186.02 590.09 L1188.36 590.08 L1190.70 590.06 L1193.04 590.04 L1195.38 590.03 L1197.72 590.02 L1200.06 590.02 L1202.40 590.02 L1204.74 590.02 L1207.08 590.03 L1209.42 590.04 L1211.77 590.06 L1214.11 590.08 L1216.45 590.09 L1218.79 590.11 L1221.13 590.13 L1223.47 590.15 L1225.81 590.16 L1228.15 590.17 L1230.49 590.18 L1232.83 590.18 L1235.17 590.18 L1237.51 590.17 L1239.85 590.16 L1242.19 590.15 L1244.53 590.14 L1246.88 590.12 L1249.22 590.10 L1251.56 590.08 L1253.90 590.06 L1256.24 590.05 L1258.58 590.04 L1260.92 590.03 L1263.26 590.02 L1265.60 590.02 L1267.94 590.02 L1270.28 590.03 L1272.62 590.04 L1274.96 590.05 L1277.30 590.07 L1279.64 590.09 L1281.98 590.11 L1284.33 590.12 L1286.67 590.14 L1289.01 590.16 L1291.35 590.17 L1293.69 590.18 L1296.03 590.18 L1298.37 590.18 L1300.71 590.18 L1303.05 590.17 L1305.39 590.15 L1307.73 590.14 L1310.07 590.12 L1312.41 590.11 L1314.75 590.09 L1317.09 590.07 L1319.43 590.05 L1321.78 590.04 L1324.12 590.03 L1326.46 590.02 L1328.80 590.02 L1331.14 590.02 L1333.48 590.03 L1335.82 590.04 L1338.16 590.05 L1340.50 590.07 L1342.84 590.08 L1345.18 590.10 L1347.52 590.12 L1349.86 590.14 L1352.20 590.15 L1354.54 590.16 L1356.88 590.17 L1359.22 590.18 L1361.57 590.18 L1363.91 590.18 L1366.25 590.17 L1368.59 590.16 L1370.93 590.15 L1373.27 590.13 L1375.61 590.11 L1377.95 590.09 L1380.29 590.07 L1382.63 590.06 L1384.97 590.04 L1387.31 590.03 L1389.65 590.02 L1391.99 590.02 L1394.33 590.02 L1396.67 590.03 L1399.02 590.03 L1401.36 590.05 L1403.70 590.06 L1406.04 590.08 L1408.38 590.13 L1410.72 590.30 L1413.06 590.30 L1415.40 590.15 L1417.74 589.99 L1420.08 589.99 L1422.42 590.14 L1424.76 590.18 L1427.10 590.18 L1429.44 590.17 L1431.78 590.16 L1434.12 590.15 L1436.47 590.13 L1438.81 590.12 L1441.15 590.10 L1443.49 590.08 L1445.83 590.06 L1448.17 590.05 L1450.51 590.04 L1452.85 590.03 L1455.19 590.02 L1457.53 590.02 L1459.87 590.02 L1462.21 590.03 L1464.55 590.04 L1466.89 590.06 L1469.23 590.07 L1471.58 590.09 L1473.92 590.11 L1476.26 590.13 L1478.60 590.14 L1480.94 590.16 L1483.28 590.17 L1485.62 590.18 L1487.96 590.18 L1490.30 590.18 L1492.64 590.17 L1494.98 590.17 L1497.32 590.15 L1499.66 590.14 L1502.00 590.12 L1504.34 590.10 L1506.68 590.09 L1509.03 590.07 L1511.37 590.05 L1513.71 590.04 L1516.05 590.03 L1518.39 590.02 L1520.73 590.02 L1523.07 590.02 L1525.41 590.03 L1527.75 590.04" stroke="#c44e52" stroke-width="2.08" fill="none" stroke-linejoin="bevel" stroke-linecap="butt" clip-path="url(#c12)"/>
<path d="M1153.25 532H1527.75" stroke="#ff0000" stroke-width="2.08" fill="none"/>
<path d="M1153.25 647H1527.75" stroke="#ff0000" stroke-width="2.08" fill="none"/>
<rect x="1153.5" y="463.5" width="374.0" height="251.0" fill="none" stroke="#000" stroke-width="1.111" stroke-linejoin="miter"/>
<path d="M1174.5 714.5V719.36 M1238.5 714.5V719.36 M1303.5 714.5V719.36 M1367.5 714.5V719.36 M1431.5 714.5V719.36 M1495.5 714.5V719.36 M1153.5 503.5H1148.64 M1153.5 546.5H1148.64 M1153.5 589.5H1148.64 M1153.5 633.5H1148.64 M1153.5 676.5H1148.64" stroke="#000" stroke-width="1.111" fill="none"/>
<text transform="scale(1.11305,1)" x="1036.73 1045.90 1053.63 1061.47 1065.22" y="734.700" font-size="14.717" fill="#000">−18.0</text>
<text transform="scale(1.11305,1)" x="1094.41 1103.58 1111.31 1119.15 1122.90" y="734.700" font-size="14.717" fill="#000">−12.0</text>
<text transform="scale(1.11744,1)" x="1151.51 1160.54 1168.29 1171.95" y="734.700" font-size="14.717" fill="#000">−6.0</text>
<text transform="scale(1.00733,1)" x="1346.57 1354.75 1358.84" y="734.700" font-size="14.717" fill="#000">0.0</text>
<text transform="scale(1.11715,1)" x="1266.76 1275.78 1283.54 1287.20" y="734.700" font-size="14.717" fill="#000">+6.0</text>
<text transform="scale(1.11282,1)" x="1325.41 1334.57 1342.30 1350.15 1353.89" y="734.700" font-size="14.717" fill="#000">+12.0</text>
<text transform="scale(1.04058,1)" x="1055.61 1063.79 1071.98 1080.16 1088.35" y="508.850" font-size="14.717" fill="#000">30000</text>
<text transform="scale(1.04352,1)" x="1052.52 1060.71 1068.89 1077.07 1085.26" y="552.100" font-size="14.717" fill="#000">15000</text>
<text transform="scale(0.88113,1)" x="1286.67" y="595.350" font-size="14.717" fill="#000">0</text>
<text transform="scale(1.10733,1)" x="981.64 990.92 998.76 1006.60 1014.44 1022.28" y="638.600" font-size="14.717" fill="#000">−15000</text>
<text transform="scale(1.10733,1)" x="981.64 990.92 998.76 1006.60 1014.44 1022.28" y="681.850" font-size="14.717" fill="#000">−30000</text>
<rect x="1182.25" y="442.2" width="315.6" height="26.10" rx="4.2" ry="4.2" fill="#fff" stroke="#000" stroke-width="1.39"/>
<text transform="scale(0.97748,1)" x="1216.67 1229.87 1240.51 1245.87 1250.42 1261.65 1266.74 1272.77 1277.60 1288.20 1302.75 1313.76 1322.43 1333.48 1344.53 1354.17 1362.91 1374.42 1384.92 1396.15 1401.18 1413.36 1422.95 1432.05 1444.20 1453.84 1462.97 1468.01 1481.17 1490.81 1500.16 1512.89" y="459.800" font-size="17.150" fill="#000">H1:ISI-ITMX_ST1_CPSINF_V3_IN1_DQ</text>
<rect x="485.0" y="26.0" width="788.8" height="39.2" rx="7" ry="7" fill="#fff" stroke="#000" stroke-width="1.39"/>
<text transform="scale(1.05213,1)" x="468.86 483.92 498.98 514.05 528.80 537.65 552.72 567.47 576.32 591.38 606.37 613.97 629.04 644.24 652.08 667.14 682.35 690.18 705.24 720.22 727.83 742.89 757.96 773.02 788.08 803.15 818.13 824.67 842.04 856.06 873.97 881.63 889.52 907.30 921.96 938.39 946.00 961.06 976.12 991.19 1006.25 1021.31 1036.38 1051.44 1066.50 1081.56 1096.55 1104.15 1119.22 1134.28 1149.34 1164.41 1179.47 1194.57" y="53.800" font-size="26.490" fill="#000">2024-03-22 03:20:23.330078 UTC (GPS 1395112841.330078)</text>
<g transform="translate(49.100,403.600) rotate(-90)"><text transform="scale(1.08395,1)" x="-62.92 -50.73 -42.75 -34.64 -26.35 -22.48 -17.97 -9.85 -1.86 6.15 10.28 15.06 22.07 30.04 38.15 46.75 50.96 58.01" y="0.000" font-size="14.717" fill="#000">magnitude (counts)</text></g>
<text transform="scale(1.07026,1)" x="697.14 704.08 712.03 719.13 727.19 735.40 743.29 750.35 754.32 762.61 767.43 771.89 780.18 785.30 789.42 797.66 805.89 814.12 822.35 830.59 838.82 847.05 855.28 863.51 871.73 875.86 884.09 892.32 900.56 908.79 917.02 925.24 929.42 934.08 941.20" y="779.000" font-size="14.717" fill="#000">seconds after 1395112841.330078 (s)</text>
<rect x="1568.7" y="249.6" width="148.9" height="108.8" rx="2.8" ry="2.8" fill="#fff" fill-opacity="0.8" stroke="#cccccc" stroke-width="1.11"/>
<text transform="scale(1.05730,1)" x="1487.97 1501.16 1509.69 1514.13 1521.36 1529.54 1537.59 1545.63 1553.83 1557.61 1565.14 1569.57 1578.10 1582.56 1590.63 1594.78 1602.08 1610.28" y="266.000" font-size="14.717" fill="#000">Watchdog state key</text>
<text transform="scale(0.95017,1)" x="1745.33" y="286.900" font-size="14.717" fill="#000">1</text>
<rect x="1618" y="297.00" width="28" height="9.7" fill="#ffff80"/>
<text transform="scale(0.95893,1)" x="1729.22" y="307.500" font-size="14.717" fill="#000">2</text>
<rect x="1618" y="318.00" width="28" height="9.7" fill="#ffcc88"/>
<text transform="scale(0.95542,1)" x="1735.80" y="328.100" font-size="14.717" fill="#000">3</text>
<rect x="1618" y="339.00" width="28" height="9.7" fill="#ff8888"/>
<text transform="scale(0.99497,1)" x="1666.62" y="348.700" font-size="14.717" fill="#000">4</text>
<rect x="1589.7" y="594.2" width="102.5" height="54.8" rx="4.2" ry="4.2" fill="#fff" stroke="#000" stroke-width="1.39"/>
<text transform="scale(1.01841,1)" x="1567.81 1576.27 1579.97 1584.85 1592.47 1597.12 1600.75 1609.50 1614.83 1618.35 1626.67 1634.86 1643.23 1648.11" y="609.700" font-size="14.717" fill="#000">First Triggers</text>
<text transform="scale(1.34453,1)" x="1186.46 1195.05 1203.65 1212.24 1220.84 1229.43 1238.03 1246.62" y="625.000" font-size="14.717" fill="#000">========</text>
<text transform="scale(0.86239,1)" x="1887.73 1898.30 1907.97" y="641.700" font-size="14.717" fill="#000">CPS</text>
</svg>
</body></html>
